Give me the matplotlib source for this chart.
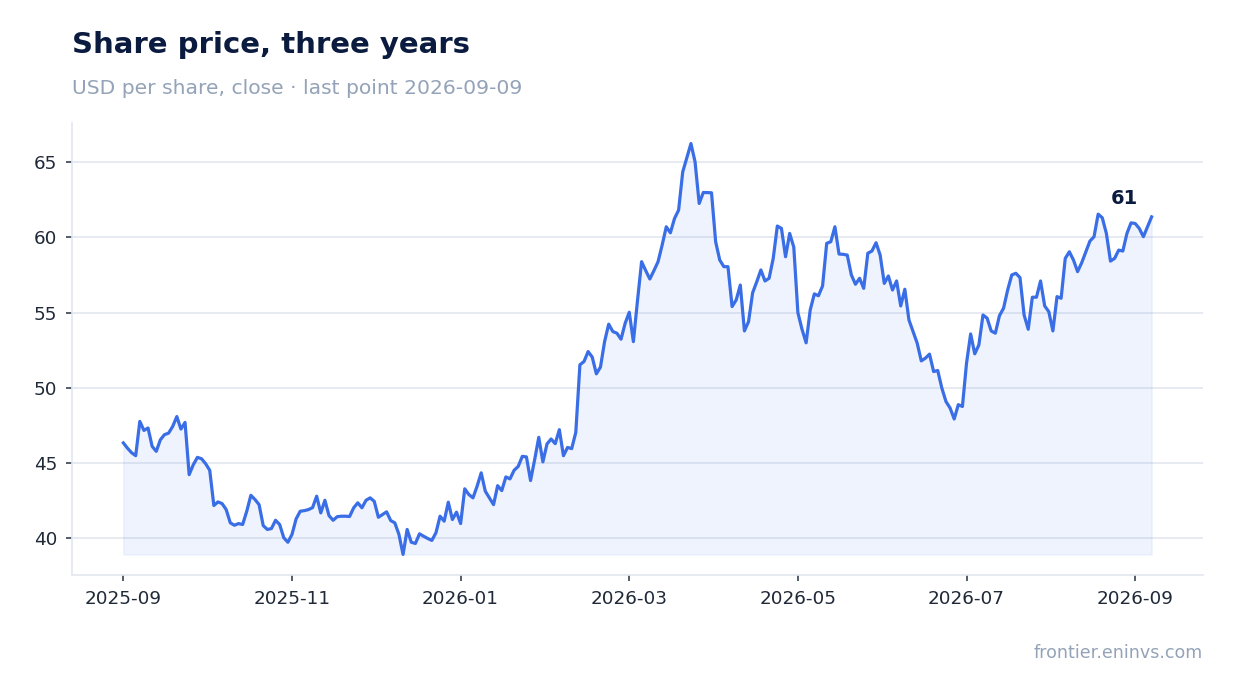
import numpy as np
import pandas as pd
import matplotlib
matplotlib.use("Agg")
import matplotlib.pyplot as plt

# close prices, roughly every 1.5 days
first_day = "2025-09-01"
last_day = "2026-09-09"
close = [
    46.35, 46.0, 45.7, 45.5, 47.78, 47.18, 47.34, 46.12, 45.79, 46.56,
    46.9, 47.0, 47.45, 48.1, 47.27, 47.71, 44.24, 44.9, 45.39, 45.3,
    44.97, 44.53, 42.19, 42.43, 42.32, 41.92, 41.04, 40.88, 40.99, 40.93,
    41.81, 42.87, 42.59, 42.25, 40.86, 40.6, 40.66, 41.21, 40.93, 40.05,
    39.75, 40.27, 41.3, 41.81,
    41.85, 41.92, 42.05, 42.81, 41.7, 42.54, 41.52, 41.21, 41.45, 41.48,
    41.48, 41.46, 42.04, 42.37, 42.04, 42.54, 42.70, 42.47, 41.41, 41.59,
    41.77, 41.19, 41.04, 40.27, 38.94, 40.6, 39.75, 39.67, 40.31, 40.15,
    40.0, 39.87, 40.38, 41.48, 41.15, 42.41, 41.26, 41.75, 40.99, 43.3,
    42.92, 42.70, 43.47, 44.36, 43.14, 42.7, 42.25, 43.51, 43.18, 44.09,
    43.96, 44.53, 44.79, 45.46, 45.42, 43.85, 45.24, 46.72, 45.09, 46.28,
    46.61, 46.3, 47.23, 45.5, 46.05, 45.97, 47.05, 51.54, 51.76, 52.42,
    52.05, 50.94, 51.39, 53.08, 54.24, 53.75, 53.64, 53.24, 54.3, 55.03,
    53.08,
    55.8, 58.39, 57.8, 57.24, 57.8, 58.39, 59.5, 60.71, 60.31, 61.26,
    61.82, 64.36, 65.3, 66.24, 65.02, 62.26, 62.99, 62.98, 62.97, 59.72,
    58.5, 58.06, 58.06, 55.41, 55.85, 56.84, 53.79, 54.41, 56.33, 57.06,
    57.84, 57.11, 57.29, 58.61, 60.76, 60.6, 58.72, 60.27, 59.36, 55.0,
    53.9, 53.0, 55.19, 56.25, 56.13, 56.78, 59.61, 59.72, 60.71, 58.9,
    58.88, 58.83, 57.51, 56.89, 57.29, 56.62, 58.95, 59.1, 59.65, 58.83,
    56.95, 57.44, 56.51, 57.11, 55.45, 56.56, 54.52, 53.75, 52.98, 51.8,
    51.98, 52.25, 51.09, 51.16, 49.99, 49.1, 48.67, 47.94, 48.89, 48.77,
    51.65, 53.59, 52.27, 52.86, 54.85, 54.64, 53.79, 53.64, 54.8, 55.3,
    56.51, 57.51, 57.62, 57.33, 54.85, 53.9, 56.03, 56.03, 57.11, 55.45,
    55.07, 53.79, 56.07, 55.96, 58.61, 59.05, 58.5, 57.73, 58.32, 59.05,
    59.76, 60.05, 61.55, 61.31, 60.27, 58.43, 58.61, 59.16, 59.1, 60.27,
    60.97, 60.93, 60.6, 60.05, 60.71, 61.37,
]

title = "Share price, three years"
subtitle = "USD per share, close \u00b7 last point 2026-09-09"
source = "frontier.eninvs.com"

line_col = "#3a6ee6"
ink = "#0b1b3f"
muted = "#94a3b8"
grid_col = "#e3e7ef"

dates = pd.date_range(first_day, last_day, periods=len(close))
y = np.array(close)
x = np.arange(len(y))

fig = plt.figure(figsize=(12.34, 6.93), dpi=100)
ax = fig.add_axes([0.0583, 0.1703, 0.9166, 0.6522])

ax.fill_between(x, y, y.min(), color=line_col, alpha=0.08)
ax.plot(x, y, color=line_col, lw=2.3)

ax.annotate(f"{y[-1]:.0f}", (x[-1], y[-1]), xytext=(-19.5, 9.5),
            textcoords="offset points", ha="center", va="baseline",
            fontsize=14, fontweight="bold", color=ink)

# a tick every sixth of the series, labelled with its month
step = len(y) // 6
ticks = x[::step]
ax.set_xticks(ticks)
ax.set_xticklabels([dates[i].strftime("%Y-%m") for i in ticks])
ax.set_yticks([40, 45, 50, 55, 60, 65])

ax.grid(axis="y", color=grid_col, lw=1.2)
ax.set_axisbelow(True)
for s in ["top", "right"]:
    ax.spines[s].set_visible(False)
for s in ["left", "bottom"]:
    ax.spines[s].set_color(grid_col)
    ax.spines[s].set_linewidth(1.2)
ax.tick_params(labelsize=13.2, labelcolor="#1f2937", color="#374151",
               length=4.5, width=1.2, pad=6)

fig.text(0.0583, 0.9235, title, fontsize=21, fontweight="bold", color=ink,
         va="baseline")
fig.text(0.0583, 0.8644, subtitle, fontsize=14.6, color=muted, va="baseline")
fig.text(0.9749, 0.0505, source, fontsize=12.6, color=muted, ha="right",
         va="baseline")

fig.savefig("out.png", dpi=100)
